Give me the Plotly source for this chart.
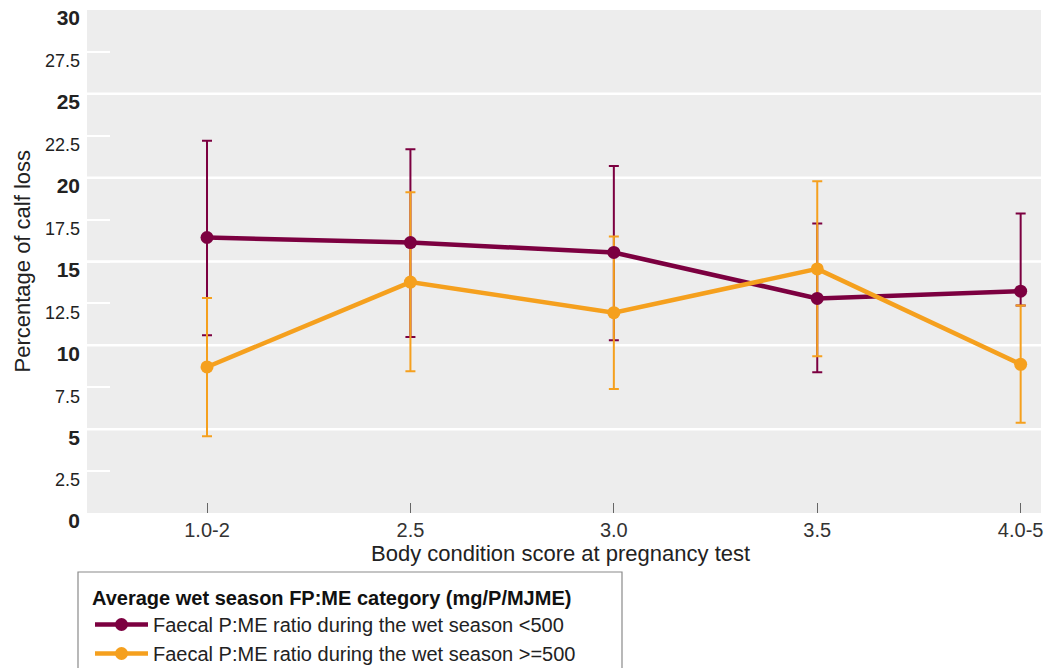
import plotly.graph_objects as go

# Body condition score categories at pregnancy test
categories = ["1.0-2", "2.5", "3.0", "3.5", "4.0-5"]

# Faecal P:ME < 500 (mean calf loss %, upper / lower error)
low_mean = [16.43, 16.13, 15.54, 12.80, 13.23]
low_err_plus = [5.77, 5.57, 5.16, 4.46, 4.63]
low_err_minus = [5.83, 5.63, 5.24, 4.40, 0.85]

# Faecal P:ME >= 500
high_mean = [8.71, 13.77, 11.95, 14.56, 8.87]
high_err_plus = [4.11, 5.36, 4.54, 5.22, 3.51]
high_err_minus = [4.13, 5.32, 4.55, 5.21, 3.49]

y_ticks = [0, 2.5, 5, 7.5, 10, 12.5, 15, 17.5, 20, 22.5, 25, 27.5, 30]
y_grid = [5, 10, 15, 20, 25]

MAROON = "#7C0040"
ORANGE = "#F5A01E"
FONT = "Liberation Sans, Arial, Helvetica, sans-serif"

names = ["Faecal P:ME ratio during the wet season <500",
         "Faecal P:ME ratio during the wet season >=500"]

fig = go.Figure()

# error bars first so every marker sits on top of them
for mean, ep, em, col in [(low_mean, low_err_plus, low_err_minus, MAROON),
                          (high_mean, high_err_plus, high_err_minus, ORANGE)]:
    fig.add_trace(go.Scatter(
        x=categories, y=mean, mode="markers",
        marker=dict(size=1, color=col, opacity=0),
        error_y=dict(type="data", symmetric=False, array=ep, arrayminus=em,
                     color=col, thickness=2, width=5),
        showlegend=False, hoverinfo="skip",
    ))

for mean, col, name in [(low_mean, MAROON, names[0]), (high_mean, ORANGE, names[1])]:
    fig.add_trace(go.Scatter(
        x=categories, y=mean, mode="lines+markers", name=name,
        line=dict(color=col, width=4.5),
        marker=dict(size=13, color=col),
    ))

# horizontal grid every 5 units
for g in y_grid:
    fig.add_shape(type="line", xref="paper", x0=0, x1=1, yref="y", y0=g, y1=g,
                  line=dict(color="white", width=2.5), layer="below")

tick_text = []
for v in y_ticks:
    if v % 5 == 0:
        tick_text.append(f"<b>{v:g}</b>")
    else:
        tick_text.append(f"<span style='font-size:18px'>{v:g}</span>")

# legend frame
fig.add_shape(type="rect", xref="paper", yref="paper",
              x0=(78 - 87) / 954, x1=(622 - 87) / 954,
              y0=-0.45, y1=(513 - 572) / 503,
              line=dict(color="#8a8a8a", width=1.2), fillcolor="rgba(0,0,0,0)")

fig.add_annotation(text="Percentage of calf loss", xref="paper", yref="paper",
                   x=(22 - 87) / 954, y=0.5, textangle=-90, showarrow=False,
                   xanchor="center", yanchor="middle",
                   font=dict(family=FONT, size=22, color="#222"))
fig.add_annotation(text="Body condition score at pregnancy test", xref="paper",
                   yref="paper", x=(560 - 87) / 954, y=(513 - 553) / 503,
                   showarrow=False, xanchor="center", yanchor="middle",
                   font=dict(family=FONT, size=22, color="#222"))

fig.update_layout(
    width=1045, height=668,
    margin=dict(l=87, r=4, t=10, b=155, autoexpand=False),
    paper_bgcolor="white", plot_bgcolor="#EDEDED",
    font=dict(family=FONT, color="#222"),
    xaxis=dict(type="category", range=[-0.59, 4.10], showgrid=False,
               zeroline=False, showline=False, automargin=False,
               ticks="inside", ticklen=10, tickwidth=1, tickcolor="#666",
               ticklabelstandoff=3,
               tickfont=dict(family=FONT, size=20, color="#333")),
    yaxis=dict(range=[0, 30], showgrid=False, zeroline=False, showline=False,
               automargin=False,
               tickmode="array", tickvals=y_ticks, ticktext=tick_text,
               ticks="inside", ticklen=23, tickwidth=2, tickcolor="white",
               ticklabelshift=8, ticklabelstandoff=6,
               tickfont=dict(family=FONT, size=21, color="#222")),
    showlegend=True,
    legend=dict(x=(90 - 87) / 954, y=(513 - 579) / 503, xanchor="left", yanchor="top",
                bgcolor="rgba(0,0,0,0)", borderwidth=0,
                title=dict(text="<b>Average wet season FP:ME category (mg/P/MJME)</b>",
                           font=dict(family=FONT, size=20, color="#111"), side="top"),
                font=dict(family=FONT, size=20, color="#222"),
                tracegroupgap=0, itemwidth=53),
)

fig.write_html("out.html")
